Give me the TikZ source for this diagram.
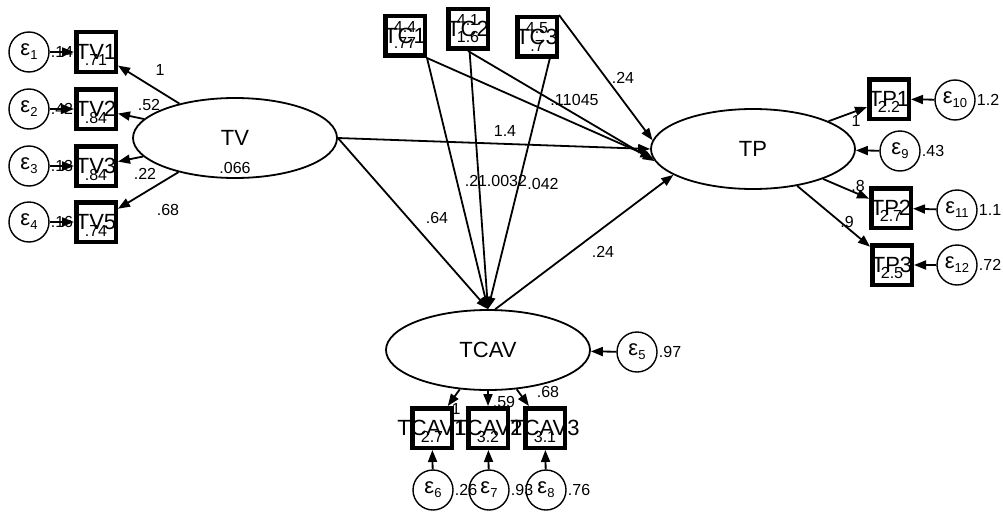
\documentclass[tikz,border=0pt]{standalone}
\usepackage{fontspec}
\setmainfont{Liberation Sans}
\usetikzlibrary{arrows.meta,shapes.geometric}

% epsilon with a lowered index for the error terms
\newcommand{\errsym}[1]{ε\raisebox{-4pt}{\fontsize{13}{13}\selectfont#1}}

\tikzset{
  latent/.style={draw, ellipse, line width=1.8pt, minimum width=204pt,
    minimum height=80pt, font=\fontsize{22}{22}\selectfont},
  observed/.style={draw, rectangle, line width=4.5pt, minimum size=39.5pt,
    inner sep=0pt},
  boxname/.style={draw=none, inner sep=0pt, font=\fontsize{22}{22}\selectfont},
  errnode/.style={draw, circle, line width=1.4pt, minimum size=40pt,
    inner sep=0pt, font=\fontsize{22}{22}\selectfont},
  coef/.style={draw=none, inner sep=1pt, font=\fontsize{16}{16}\selectfont},
  effect/.style={-{Triangle[length=12pt,width=9pt]}, line width=1.8pt},
}

\begin{document}
\begin{tikzpicture}[x=1pt, y=-1pt]
  \useasboundingbox (0,0) rectangle (1003,519);

  % latent variables
  \node[latent, label={[coef,yshift=-30pt]center:.066}] (tv) at (235,138) {TV};
  \node[latent] (tp) at (753,149) {TP};
  \node[latent] (tcav) at (488,350) {TCAV};

  % indicators of TV
  \node[observed, label={[boxname]center:TV1},
    label={[coef,yshift=-8pt]center:.71}] (tv1) at (96,52) {};
  \node[observed, label={[boxname]center:TV2},
    label={[coef,yshift=-9pt]center:.84}] (tv2) at (96,109) {};
  \node[observed, label={[boxname]center:TV3},
    label={[coef,yshift=-9pt]center:.84}] (tv3) at (96,166) {};
  \node[observed, label={[boxname]center:TV5},
    label={[coef,yshift=-9pt]center:.74}] (tv5) at (96,222) {};

  % exogenous controls (mean above, variance below)
  \node[observed, label={[boxname]center:TC1}, label={[coef,yshift=9pt]center:4.4},
    label={[coef,yshift=-7pt]center:.77}] (tc1) at (405,36) {};
  \node[observed, label={[boxname]center:TC2}, label={[coef,yshift=9pt]center:4.1},
    label={[coef,yshift=-8pt]center:1.6}] (tc2) at (468,29) {};
  \node[observed, label={[boxname]center:TC3}, label={[coef,yshift=9pt]center:4.5},
    label={[coef,yshift=-9pt]center:.7}] (tc3) at (537,37) {};

  % indicators of TP
  \node[observed, label={[boxname]center:TP1},
    label={[coef,yshift=-8pt]center:2.2}] (tp1) at (889,99) {};
  \node[observed, label={[boxname]center:TP2},
    label={[coef,yshift=-8pt]center:2.7}] (tp2) at (891,208) {};
  \node[observed, label={[boxname]center:TP3},
    label={[coef,yshift=-8pt]center:2.5}] (tp3) at (892,265) {};

  % indicators of TCAV
  \node[observed, label={[boxname]center:TCAV1},
    label={[coef,yshift=-9pt]center:2.7}] (tcav1) at (432,428) {};
  \node[observed, label={[boxname]center:TCAV2},
    label={[coef,yshift=-9pt]center:3.2}] (tcav2) at (488,428) {};
  \node[observed, label={[boxname]center:TCAV3},
    label={[coef,yshift=-9pt]center:3.1}] (tcav3) at (545,428) {};

  % error terms
  \node[errnode, label={[coef]right:.14}] (e1) at (29,52) {\errsym{1}};
  \node[errnode, label={[coef]right:.42}] (e2) at (29,109) {\errsym{2}};
  \node[errnode, label={[coef]right:.13}] (e3) at (29,166) {\errsym{3}};
  \node[errnode, label={[coef]right:.16}] (e4) at (29,222) {\errsym{4}};
  \node[errnode, label={[coef]right:.97}] (e5) at (637,352) {\errsym{5}};
  \node[errnode, label={[coef]right:.26}] (e6) at (433,490) {\errsym{6}};
  \node[errnode, label={[coef]right:.93}] (e7) at (489,490) {\errsym{7}};
  \node[errnode, label={[coef]right:.76}] (e8) at (546,490) {\errsym{8}};
  \node[errnode, label={[coef]right:.43}] (e9) at (900,151) {\errsym{9}};
  \node[errnode, label={[coef]right:1.2}] (e10) at (955,100) {\errsym{10}};
  \node[errnode, label={[coef]right:1.1}] (e11) at (957,210) {\errsym{11}};
  \node[errnode, label={[coef]right:.72}] (e12) at (957,265) {\errsym{12}};

  % measurement part
  \draw[effect] (tv) -- (tv1);
  \draw[effect] (tv) -- (tv2);
  \draw[effect] (tv) -- (tv3);
  \draw[effect] (tv) -- (tv5);
  \draw[effect] (e1) -- (tv1);
  \draw[effect] (e2) -- (tv2);
  \draw[effect] (e3) -- (tv3);
  \draw[effect] (e4) -- (tv5);

  \draw[effect] (tp) -- (tp1);
  \draw[effect] (tp) -- (tp2);
  \draw[effect] (tp) -- (tp3);
  \draw[effect] (e10) -- (tp1);
  \draw[effect] (e11) -- (tp2);
  \draw[effect] (e12) -- (tp3);
  \draw[effect] (e9) -- (tp);

  \draw[effect] (tcav) -- (tcav1);
  \draw[effect] (tcav) -- (tcav2);
  \draw[effect] (tcav) -- (tcav3);
  \draw[effect] (e6) -- (tcav1);
  \draw[effect] (e7) -- (tcav2);
  \draw[effect] (e8) -- (tcav3);
  \draw[effect] (e5) -- (tcav);

  % structural part
  \draw[effect] (tv.east) -- (tp.west);
  \draw[effect] (tv.east) -- (tcav.north);
  \draw[effect] (tc1.south east) -- (tcav.north);
  \draw[effect] (tc2) -- (tcav.north);
  \draw[effect] (tc3.-60) -- (tcav.north);
  \draw[effect] (tc1.south east) -- (tp.185);
  \draw[effect] (tc2.south) -- (tp.187);
  \draw[effect] (tc3.north east) -- (tp.175);
  \draw[effect] (tcav.80) -- (tp.198);

  % path coefficients
  \node[coef] (k1) at (160,70) {1};
  \node[coef] (k2) at (149,105) {.52};
  \node[coef] (k3) at (145,174) {.22};
  \node[coef] (k4) at (168,210) {.68};
  \node[coef] (k5) at (505,131) {1.4};
  \node[coef] (k6) at (437,218) {.64};
  \node[coef] (k7) at (476,181) {.21};
  \node[coef] (k8) at (507,181) {.0032};
  \node[coef] (k9) at (543,184) {.042};
  \node[coef] (k10) at (603,252) {.24};
  \node[coef] (k11) at (623,78) {.24};
  \node[coef] (k12) at (561,100) {.11};
  \node[coef] (k13) at (583,100) {.045};
  \node[coef] (k14) at (856,121) {1};
  \node[coef] (k15) at (858,186) {.8};
  \node[coef] (k16) at (847,222) {.9};
  \node[coef] (k17) at (456,409) {1};
  \node[coef] (k18) at (504,402) {.59};
  \node[coef] (k19) at (548,392) {.68};
\end{tikzpicture}
\end{document}
